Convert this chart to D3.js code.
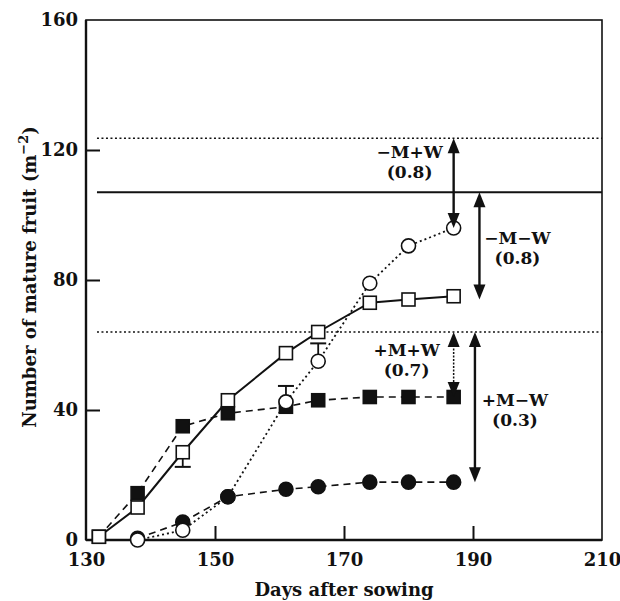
<!DOCTYPE html>
<html>
<head>
<meta charset="utf-8">
<script src="https://cdn.jsdelivr.net/npm/d3@7"></script>
<style>
  html, body { margin: 0; padding: 0; background: #fff; }
  svg { display: block; }
  text { font-family: "DejaVu Serif", "Liberation Serif", serif; fill: #111; }
</style>
</head>
<body>
<svg id="chart" width="620" height="601"></svg>
<script>
// Days after sowing for each sampling date
const days = [132, 138, 145, 152, 161, 166, 174, 180, 187];

// Cumulative mature fruit per m² for the four treatments
const openSquares   = [1, 10, 27, 43, 57.5, 64, 73, 74, 75];      // -M-W
const filledSquares = [1, 14.4, 35, 39, 41, 43, 44, 44, 44];      // +M+W
const openCircles   = [null, 0, 3, 13.3, 42.5, 55, 79, 90.5, 96]; // -M+W
const filledCircles = [null, 0.5, 5.5, 13.3, 15.6, 16.4, 17.8, 17.8, 17.8]; // +M-W

// Error bars: [day, series value, bar end]
const errorBars = [
  [145, 27, 22.5],
  [161, 42.5, 47.4],
  [166, 55, 60.5]
];

// Potential fruit numbers (horizontal reference lines)
const potentialLines = [
  { value: 123.6, style: "dotted" },
  { value: 107, style: "solid" },
  { value: 64, style: "dotted" }
];

// Yield-gap arrows: day, top, bottom, label, ratio
const arrowDays    = [187, 191, 187, 190.3];
const arrowTops    = [123.6, 107, 64, 64];
const arrowBottoms = [96, 74, 44, 17.8];
const arrowLabels  = ["\u2212M+W", "\u2212M\u2212W", "+M+W", "+M\u2212W"];
const arrowRatios  = ["(0.8)", "(0.8)", "(0.7)", "(0.3)"];

const xTicks = [130, 150, 170, 190, 210];
const yTicks = [0, 40, 80, 120, 160];

const svg = d3.select("#chart");
const margin = { left: 86, top: 20, right: 18, bottom: 61 };
const W = 620, H = 601;

const x = d3.scaleLinear().domain([130, 210]).range([margin.left, W - margin.right]);
const y = d3.scaleLinear().domain([0, 160]).range([H - margin.bottom, margin.top]);

// Frame
svg.append("rect")
  .attr("x", x(130)).attr("y", y(160))
  .attr("width", x(210) - x(130)).attr("height", y(0) - y(160))
  .attr("fill", "none").attr("stroke", "#111").attr("stroke-width", 1.6);
svg.append("line").attr("x1", x(130)).attr("x2", x(130)).attr("y1", y(160)).attr("y2", y(0))
  .attr("stroke", "#111").attr("stroke-width", 2.4);
svg.append("line").attr("x1", x(130)).attr("x2", x(210)).attr("y1", y(0)).attr("y2", y(0))
  .attr("stroke", "#111").attr("stroke-width", 2.4);

// Axes with inward ticks
const yAxis = d3.axisLeft(y).tickValues(yTicks).tickSize(-14).tickPadding(22).tickFormat(d3.format("d"));
const gy = svg.append("g").attr("transform", `translate(${x(130)},0)`).call(yAxis);
gy.select(".domain").remove();
gy.selectAll(".tick line").attr("stroke", "#111").attr("stroke-width", 2)
  .filter(d => d === 0 || d === 160).remove();
gy.selectAll(".tick text").attr("font-size", 18).attr("font-weight", "bold")
  .attr("font-family", "DejaVu Serif").attr("fill", "#111").attr("x", -8);

const xAxis = d3.axisBottom(x).tickValues(xTicks).tickSize(-14).tickPadding(8).tickFormat(d3.format("d"));
const gx = svg.append("g").attr("transform", `translate(0,${y(0)})`).call(xAxis);
gx.select(".domain").remove();
gx.selectAll(".tick line").attr("stroke", "#111").attr("stroke-width", 2)
  .filter(d => d === 130 || d === 210).remove();
gx.selectAll(".tick text").attr("font-size", 18).attr("font-weight", "bold")
  .attr("font-family", "DejaVu Serif").attr("fill", "#111").attr("y", 13);

// Axis titles
svg.append("text")
  .attr("x", (x(130) + x(210)) / 2).attr("y", 596)
  .attr("text-anchor", "middle").attr("font-size", 18).attr("font-weight", "bold")
  .text("Days after sowing");

const yt = svg.append("text")
  .attr("transform", `translate(36,${(y(0) + y(160)) / 2 - 3}) rotate(-90)`)
  .attr("text-anchor", "middle").attr("font-size", 18).attr("font-weight", "bold");
yt.append("tspan").text("Number of mature fruit (m");
yt.append("tspan").attr("dy", -8).attr("font-size", 13).text("\u22122");
yt.append("tspan").attr("dy", 8).text(")");

// Potential reference lines
svg.selectAll(".potential").data(potentialLines).enter().append("line")
  .attr("x1", x(131.7)).attr("x2", x(210))
  .attr("y1", d => y(d.value)).attr("y2", d => y(d.value))
  .attr("stroke", "#111")
  .attr("stroke-width", d => d.style === "solid" ? 2 : 1.6)
  .attr("stroke-dasharray", d => d.style === "solid" ? null : "2,2.5");

// Series
const series = [
  { values: openSquares,   shape: "square", fill: "#fff", dash: null,  width: 2 },
  { values: filledSquares, shape: "square", fill: "#111", dash: "7,5", width: 1.6 },
  { values: openCircles,   shape: "circle", fill: "#fff", dash: "2,3", width: 1.8 },
  { values: filledCircles, shape: "circle", fill: "#111", dash: "7,5", width: 1.6 }
];

const pts = s => days.map((d, i) => [d, s.values[i]]).filter(p => p[1] !== null);
const line = d3.line().x(p => x(p[0])).y(p => y(p[1]));

series.forEach(s => {
  svg.append("path").attr("d", line(pts(s)))
    .attr("fill", "none").attr("stroke", "#111")
    .attr("stroke-width", s.width).attr("stroke-dasharray", s.dash);
});

// Error bars
errorBars.forEach(([d, v, e]) => {
  svg.append("line").attr("x1", x(d)).attr("x2", x(d)).attr("y1", y(v)).attr("y2", y(e))
    .attr("stroke", "#111").attr("stroke-width", 1.8);
  svg.append("line").attr("x1", x(d) - 8).attr("x2", x(d) + 8).attr("y1", y(e)).attr("y2", y(e))
    .attr("stroke", "#111").attr("stroke-width", 2);
});

// Markers: squares first (open above filled), then circles with the lower
// value drawn on top at shared dates (filled wins ties)
const markers = [];
[1, 0].forEach((k, order) => pts(series[k]).forEach(p => markers.push({ s: series[k], p, z: order, tie: 0 })));
[2, 3].forEach((k, j) => pts(series[k]).forEach(p => markers.push({ s: series[k], p, z: 2 + (200 - p[1]) / 1000, tie: j })));
markers.sort((a, b) => a.z - b.z || a.tie - b.tie);

const gm = svg.append("g");
markers.forEach(({ s, p }) => {
  if (s.shape === "square") {
    gm.append("rect").attr("x", x(p[0]) - 6.5).attr("y", y(p[1]) - 6.5)
      .attr("width", 13).attr("height", 13)
      .attr("fill", s.fill).attr("stroke", "#111").attr("stroke-width", 1.6);
  } else {
    gm.append("circle").attr("cx", x(p[0])).attr("cy", y(p[1])).attr("r", 7)
      .attr("fill", s.fill).attr("stroke", "#111").attr("stroke-width", 1.6);
  }
});

// Yield-gap arrows and their labels
const labelDx = [-44, 38, -47, 40];
const labelDy = [20, 52, 24, 74];
arrowDays.forEach((d, i) => {
  const ax = x(d), y1 = y(arrowTops[i]), y2 = y(arrowBottoms[i]);
  const hw = 6, hl = 15;
  svg.append("line").attr("x1", ax).attr("x2", ax).attr("y1", y1 + hl - 2).attr("y2", y2 - hl + 2)
    .attr("stroke", "#111").attr("stroke-width", i === 2 ? 1.5 : 2.4)
    .attr("stroke-dasharray", i === 2 ? "2,1.5" : null);
  svg.append("path").attr("d", `M${ax},${y1} L${ax - hw},${y1 + hl} L${ax + hw},${y1 + hl} Z`).attr("fill", "#111");
  svg.append("path").attr("d", `M${ax},${y2} L${ax - hw},${y2 - hl} L${ax + hw},${y2 - hl} Z`).attr("fill", "#111");
  const lx = ax + labelDx[i], ly = y1 + labelDy[i];
  svg.append("text").attr("x", lx).attr("y", ly).attr("text-anchor", "middle")
    .attr("font-size", 17).attr("font-weight", "bold").text(arrowLabels[i]);
  svg.append("text").attr("x", lx).attr("y", ly + 20).attr("text-anchor", "middle")
    .attr("font-size", 17).attr("font-weight", "bold").text(arrowRatios[i]);
});
</script>
</body>
</html>
